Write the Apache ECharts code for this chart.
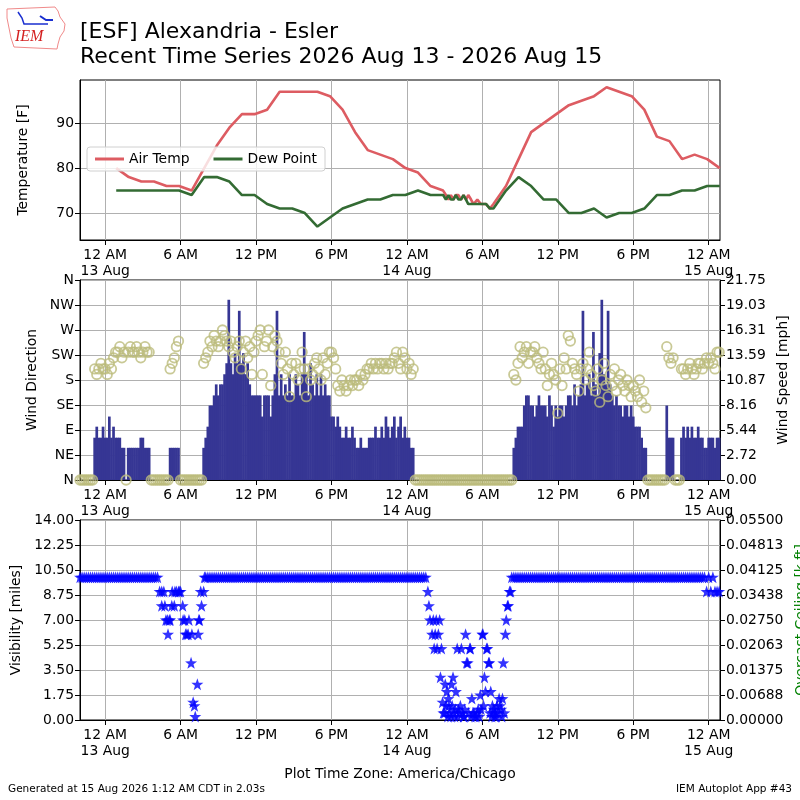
<!DOCTYPE html>
<html>
<head>
<meta charset="utf-8">
<script src="https://cdn.jsdelivr.net/npm/echarts@6/dist/echarts.min.js"></script>
<style>
  html, body { margin: 0; padding: 0; background: #fff; }
  #chart { width: 800px; height: 800px; }
</style>
</head>
<body>
<div id="chart"></div>
<script>
// x values are hours after 2026-08-13 00:00 CDT
var xTicks = [0, 6, 12, 18, 24, 30, 36, 42, 48];
var dirLabels = ['N', 'NE', 'E', 'SE', 'S', 'SW', 'W', 'NW', 'N'];
var speedLabels = ['0.00', '2.72', '5.44', '8.16', '10.87', '13.59', '16.31', '19.03', '21.75'];
var ceilLabels = ['0.00000', '0.00688', '0.01375', '0.02063', '0.02750', '0.03438', '0.04125', '0.04813', '0.05500'];

// hourly (and special) obs, temperature
var tempHours = [0.88, 1.88, 2.88, 3.88, 4.88, 5.88, 6.88, 7.88, 8.88, 9.88, 10.88, 11.88, 12.88, 13.88,
  14.88, 15.88, 16.88, 17.88, 18.88, 19.88, 20.88, 21.88, 22.88, 23.88, 24.88, 25.88, 26.88,
  27.1, 27.3, 27.5, 27.7, 27.88, 28.1, 28.3, 28.5, 28.7, 28.88, 29.1, 29.3, 29.6, 29.88, 30.3, 30.6, 30.88,
  31.88, 32.88, 33.88, 34.88, 35.88, 36.88, 37.88, 38.88, 39.88, 40.88, 41.88, 42.88, 43.88, 44.88,
  45.88, 46.88, 47.88, 48.88];
var airTemp = [80, 78, 77, 77, 76, 76, 75, 80, 85, 89, 92, 92, 93, 97,
  97, 97, 97, 96, 93, 88, 84, 83, 82, 80, 79, 76, 75,
  74, 73, 74, 73, 74, 74, 73, 74, 73, 74, 73, 72, 73, 72, 72, 71, 72,
  76, 82, 88, 90, 92, 94, 95, 96, 98, 97, 96, 93, 87, 86,
  82, 83, 82, 80];
var dewPoint = [75, 75, 75, 75, 75, 75, 74, 78, 78, 77, 74, 74, 72, 71,
  71, 70, 67, 69, 71, 72, 73, 73, 74, 74, 75, 74, 74,
  73, 74, 73, 73, 74, 73, 73, 74, 73, 72, 72, 72, 72, 72, 72, 71, 71,
  75, 78, 76, 73, 73, 70, 70, 71, 69, 70, 70, 71, 74, 74,
  75, 75, 76, 76];

// 10 minute obs starting 2026-08-12 22:00, one row per hour
var obsStart = -2, obsStep = 1 / 6;
var windMph = [
  0, 0, 0, 0, 0, 0,
  0, 4.6, 5.8, 4.6, 4.6, 5.8,
  4.6, 4.6, 6.9, 4.6, 5.8, 4.6,
  4.6, 4.6, 3.5, 3.5, 0, 3.5,
  3.5, 3.5, 3.5, 3.5, 3.5, 4.6,
  4.6, 3.5, 3.5, 3.5, 0, 0,
  0, 0, 0, 0, 0, 0,
  0, 3.5, 3.5, 3.5, 3.5, 3.5,
  0, 0, 0, 0, 0, 0,
  0, 0, 0, 0, 0, 3.5,
  4.6, 5.8, 8.1, 8.1, 9.2, 10.4,
  9.2, 10.4, 10.4, 11.5, 12.7, 19.6,
  12.7, 11.5, 13.8, 12.7, 18.4, 12.7,
  13.8, 11.5, 12.7, 10.4, 9.2, 9.2,
  9.2, 9.2, 9.2, 6.9, 9.2, 9.2,
  9.2, 6.9, 9.2, 11.5, 18.4, 9.2,
  11.5, 9.2, 10.4, 9.2, 11.5, 9.2,
  9.2, 11.5, 10.4, 9.2, 11.5, 16.1,
  11.5, 9.2, 12.7, 10.4, 9.2, 11.5,
  9.2, 11.5, 9.2, 10.4, 9.2, 9.2,
  6.9, 6.9, 5.8, 6.9, 5.8, 4.6,
  4.6, 5.8, 4.6, 4.6, 5.8, 4.6,
  3.5, 3.5, 4.6, 3.5, 3.5, 3.5,
  4.6, 4.6, 4.6, 5.8, 4.6, 4.6,
  5.8, 4.6, 6.9, 5.8, 4.6, 5.8,
  6.9, 4.6, 5.8, 6.9, 4.6, 5.8,
  4.6, 4.6, 3.5, 3.5, 0, 0,
  0, 0, 0, 0, 0, 0,
  0, 0, 0, 0, 0, 0,
  0, 0, 0, 0, 0, 0,
  0, 0, 0, 0, 0, 0,
  0, 0, 0, 0, 0, 0,
  0, 0, 0, 0, 0, 0,
  0, 0, 0, 0, 0, 0,
  0, 0, 0, 3.5, 4.6, 5.8,
  5.8, 5.8, 8.1, 9.2, 9.2, 8.1,
  8.1, 6.9, 8.1, 9.2, 8.1, 8.1,
  8.1, 6.9, 9.2, 8.1, 5.8, 8.1,
  6.9, 8.1, 8.1, 6.9, 8.1, 9.2,
  9.2, 8.1, 10.4, 8.1, 9.2, 10.4,
  18.4, 9.2, 10.4, 11.5, 9.2, 16.1,
  10.4, 9.2, 13.8, 19.6, 11.5, 10.4,
  18.4, 10.4, 9.2, 8.1, 9.2, 8.1,
  8.1, 6.9, 8.1, 8.1, 6.9, 8.1,
  6.9, 5.8, 5.8, 5.8, 4.6, 3.5,
  3.5, 0, 0, 0, 0, 0,
  0, 0, 0, 0, 8.1, 4.6,
  4.6, 4.6, 0, 0, 0, 4.6,
  5.8, 4.6, 5.8, 4.6, 5.8, 4.6,
  4.6, 5.8, 4.6, 4.6, 3.5, 3.5,
  4.6, 4.6, 4.6, 3.5, 4.6, 4.6
];
var windDir = [
  0, 0, 0, 0, 0, 0,
  0, 200, 190, 200, 210, 200,
  200, 190, 210, 200, 220, 230,
  230, 240, 220, 230, 0, 230,
  240, 230, 230, 240, 230, 220,
  230, 240, 230, 230, 0, 0,
  0, 0, 0, 0, 0, 0,
  0, 200, 210, 220, 240, 250,
  0, 0, 0, 0, 0, 0,
  0, 0, 0, 0, 0, 210,
  220, 230, 250, 240, 260, 250,
  240, 250, 270, 260, 250, 240,
  250, 230, 220, 240, 250, 200,
  230, 250, 220, 240, 190, 230,
  250, 260, 270, 190, 240, 250,
  270, 170, 240, 260, 250, 230,
  210, 190, 230, 200, 150, 210,
  190, 210, 180, 200, 230, 200,
  150, 200, 180, 190, 210, 220,
  200, 180, 220, 190, 210, 230,
  230, 220, 200, 170, 160, 180,
  170, 160, 170, 180, 170, 180,
  180, 170, 190, 180, 190, 200,
  200, 210, 200, 210, 200, 210,
  210, 200, 210, 200, 210, 210,
  220, 230, 210, 200, 230, 220,
  200, 210, 190, 200, 0, 0,
  0, 0, 0, 0, 0, 0,
  0, 0, 0, 0, 0, 0,
  0, 0, 0, 0, 0, 0,
  0, 0, 0, 0, 0, 0,
  0, 0, 0, 0, 0, 0,
  0, 0, 0, 0, 0, 0,
  0, 0, 0, 0, 0, 0,
  0, 0, 0, 190, 180, 210,
  240, 220, 230, 240, 210, 230,
  230, 240, 220, 210, 200, 230,
  200, 170, 190, 210, 190, 180,
  120, 200, 170, 220, 200, 260,
  250, 210, 200, 190, 160, 200,
  210, 180, 200, 230, 190, 170,
  160, 200, 140, 180, 210, 170,
  150, 190, 170, 200, 160, 180,
  190, 170, 160, 180, 170, 150,
  170, 160, 150, 180, 140, 160,
  130, 0, 0, 0, 0, 0,
  0, 0, 0, 0, 240, 220,
  210, 220, 0, 0, 0, 200,
  200, 190, 200, 210, 200, 190,
  200, 210, 210, 200, 210, 220,
  210, 220, 210, 200, 230, 230
];
var visMiles = [
  10, 10, 10, 10, 10, 10,
  10, 10, 10, 10, 10, 10,
  10, 10, 10, 10, 10, 10,
  10, 10, 10, 10, 10, 10,
  10, 10, 10, 10, 10, 10,
  10, 10, 10, 10, 10, 10,
  10, 10, 9, 8, 9, 7,
  6, 7, 9, 8, 9, 9,
  9, 8, 7, 6, 7, 4,
  1.25, 0.25, 2.5, 7, 8, 9,
  10, 10, 10, 10, 10, 10,
  10, 10, 10, 10, 10, 10,
  10, 10, 10, 10, 10, 10,
  10, 10, 10, 10, 10, 10,
  10, 10, 10, 10, 10, 10,
  10, 10, 10, 10, 10, 10,
  10, 10, 10, 10, 10, 10,
  10, 10, 10, 10, 10, 10,
  10, 10, 10, 10, 10, 10,
  10, 10, 10, 10, 10, 10,
  10, 10, 10, 10, 10, 10,
  10, 10, 10, 10, 10, 10,
  10, 10, 10, 10, 10, 10,
  10, 10, 10, 10, 10, 10,
  10, 10, 10, 10, 10, 10,
  10, 10, 10, 10, 10, 10,
  10, 10, 10, 10, 10, 10,
  10, 10, 10, 10, 9, 7,
  6, 5, 7, 6, 3, 1.25,
  0.5, 2, 1, 0.25, 3, 0.75,
  5, 0.5, 5, 0.25, 6, 4,
  5, 1.5, 0.5, 0.25, 0.75, 1.75,
  6, 3, 5, 4, 2, 0.5,
  0.25, 1, 1.5, 0.75, 4, 6,
  8, 9, 10, 10, 10, 10,
  10, 10, 10, 10, 10, 10,
  10, 10, 10, 10, 10, 10,
  10, 10, 10, 10, 10, 10,
  10, 10, 10, 10, 10, 10,
  10, 10, 10, 10, 10, 10,
  10, 10, 10, 10, 10, 10,
  10, 10, 10, 10, 10, 10,
  10, 10, 10, 10, 10, 10,
  10, 10, 10, 10, 10, 10,
  10, 10, 10, 10, 10, 10,
  10, 10, 10, 10, 10, 10,
  10, 10, 10, 10, 10, 10,
  10, 10, 10, 10, 10, 10,
  10, 10, 10, 10, 10, 10,
  10, 10, 10, 10, 10, 9,
  10, 9, 10, 9, 9, 9
];
// extra special visibility obs [hour, miles]
var visSpecials = [
  [4.5, 9], [4.75, 8], [4.95, 7], [5.1, 7], [5.3, 8], [5.55, 9], [5.9, 9], [6.2, 7], [6.4, 6], [6.6, 6],
  [6.9, 6], [7.1, 1], [7.4, 6], [7.45, 7], [7.6, 9], [7.9, 10],
  [25.75, 8], [26.1, 7], [26.25, 6], [26.4, 5], [26.6, 7], [26.75, 5], [26.9, 0.5],
  [27.05, 2.5], [27.1, 1], [27.25, 0.25], [27.3, 1.5], [27.4, 0.5], [27.55, 2.5], [27.6, 1], [27.7, 0.5], [27.8, 0.25], [27.9, 2],
  [28.05, 0.25], [28.1, 0.75], [28.25, 1], [28.4, 0.5], [28.55, 0.25], [28.6, 0.75], [28.75, 4], [28.9, 0.5],
  [29.05, 5], [29.1, 0.25], [29.25, 0.5], [29.4, 0.25], [29.6, 0.5], [29.75, 0.25], [29.9, 0.75],
  [30.05, 6], [30.1, 1], [30.25, 2], [30.4, 5], [30.55, 4], [30.6, 0.5], [30.75, 0.25], [30.8, 1], [30.9, 0.75],
  [31.05, 0.5], [31.1, 0.25], [31.25, 0.5], [31.4, 1], [31.55, 0.25], [31.6, 1.5], [31.75, 0.5], [31.9, 7],
  [32.05, 8], [32.25, 9]
];

var FONT = 'DejaVu Sans';
var STAR = 'path://M0,-10L2.35,-3.24L9.51,-3.09L3.8,1.24L5.88,8.09L0,4L-5.88,8.09L-3.8,1.24L-9.51,-3.09L-2.35,-3.24Z';

function obsHour(i) { return obsStart + i * obsStep; }
function pairs(xs, ys) { return ys.map(function (y, i) { return [xs[i], y]; }); }
function onGrid(ys) { return ys.map(function (y, i) { return [obsHour(i), y]; }); }

function timeLabel(v) {
  var h = Math.round(v);
  var hr = ((h % 24) + 24) % 24;
  if (hr === 0) return '12 AM\n' + (13 + Math.floor(h / 24)) + ' Aug';
  if (hr === 12) return '12 PM';
  return hr < 12 ? hr + ' AM' : (hr - 12) + ' PM';
}

var panels = [{ top: 80, height: 160 }, { top: 280, height: 200 }, { top: 520, height: 200 }];

function xAxisFor(i) {
  return {
    type: 'value', gridIndex: i, min: -2, max: 48.9,
    axisLine: { show: true, onZero: false, lineStyle: { color: '#000' } },
    axisTick: { show: true, customValues: xTicks, length: 5, lineStyle: { color: '#000' } },
    axisLabel: { customValues: xTicks, formatter: timeLabel, color: '#000', fontSize: 13.9, fontFamily: FONT, lineHeight: 16, margin: 7 },
    splitLine: { show: true, lineStyle: { color: '#b0b0b0', width: 1 } }
  };
}

function yBase(extra) {
  var o = {
    type: 'value',
    nameLocation: 'middle', nameRotate: 90,
    nameTextStyle: { color: '#000', fontSize: 13.9, fontFamily: FONT },
    axisLine: { show: true, onZero: false, lineStyle: { color: '#000' } },
    axisTick: { show: true, length: 5, lineStyle: { color: '#000' } },
    axisLabel: { color: '#000', fontSize: 13.9, fontFamily: FONT, margin: 6 },
    splitLine: { show: true, lineStyle: { color: '#b0b0b0', width: 1 } }
  };
  for (var k in extra) {
    if (typeof extra[k] === 'object' && o[k] && !Array.isArray(extra[k])) {
      for (var j in extra[k]) o[k][j] = extra[k][j];
    } else {
      o[k] = extra[k];
    }
  }
  return o;
}

var chart = echarts.init(document.getElementById('chart'), null, { renderer: 'canvas' });

var option = {
  animation: false,
  backgroundColor: '#fff',
  textStyle: { fontFamily: FONT },
  grid: panels.map(function (p) {
    return { left: 80, right: 80, top: p.top, height: p.height, outerBoundsMode: 'none', containLabel: false,
      show: true, borderColor: '#000', borderWidth: 1, backgroundColor: 'transparent' };
  }),
  legend: {
    data: ['Air Temp', 'Dew Point'],
    left: 87, top: 147,
    icon: 'rect', itemWidth: 29, itemHeight: 3, itemGap: 24,
    padding: [5, 8],
    backgroundColor: 'rgba(255,255,255,0.8)',
    borderColor: '#d0d0d0', borderWidth: 1, borderRadius: 3,
    textStyle: { color: '#000', fontSize: 13.9, fontFamily: FONT }
  },
  xAxis: [xAxisFor(0), xAxisFor(1), xAxisFor(2)],
  yAxis: [
    yBase({ gridIndex: 0, min: 64, max: 99.6, name: 'Temperature [F]', nameGap: 50,
      axisTick: { customValues: [70, 80, 90] }, axisLabel: { customValues: [70, 80, 90] } }),
    yBase({ gridIndex: 1, min: 0, max: 360, interval: 45, name: 'Wind Direction', nameGap: 38,
      axisLabel: { formatter: function (v) { return dirLabels[Math.round(v / 45)]; } } }),
    yBase({ gridIndex: 1, position: 'right', min: 0, max: 21.75, interval: 2.71875, name: 'Wind Speed [mph]', nameGap: 53,
      splitLine: { show: false },
      axisLabel: { formatter: function (v) { return speedLabels[Math.round(v / 2.71875)]; } } }),
    yBase({ gridIndex: 2, min: 0, max: 14, interval: 1.75, name: 'Visibility [miles]', nameGap: 54,
      axisLabel: { formatter: function (v) { return v.toFixed(2); } } }),
    yBase({ gridIndex: 2, position: 'right', min: 0, max: 8, interval: 1, name: 'Overcast Ceiling [k ft]', nameGap: 71,
      splitLine: { show: false },
      nameTextStyle: { color: '#008000' },
      axisLabel: { formatter: function (v) { return ceilLabels[Math.round(v)]; } } })
  ],
  series: [
    { name: 'Air Temp', type: 'line', xAxisIndex: 0, yAxisIndex: 0, data: pairs(tempHours, airTemp),
      showSymbol: false, color: '#dd5c62', lineStyle: { width: 2.6, color: '#dd5c62' }, z: 3 },
    { name: 'Dew Point', type: 'line', xAxisIndex: 0, yAxisIndex: 0, data: pairs(tempHours, dewPoint),
      showSymbol: false, color: '#336b33', lineStyle: { width: 2.6, color: '#336b33' }, z: 3 },
    { name: 'Wind Speed', type: 'bar', xAxisIndex: 1, yAxisIndex: 2, data: onGrid(windMph),
      barWidth: 2.7, itemStyle: { color: '#363694' }, z: 2 },
    { name: 'Wind Direction', type: 'scatter', xAxisIndex: 1, yAxisIndex: 1, data: onGrid(windDir),
      symbol: 'circle', symbolSize: 9.5,
      itemStyle: { color: 'rgba(0,0,0,0)', borderColor: '#bcbc7c', borderWidth: 1.8 }, z: 3 },
    { name: 'Visibility', type: 'scatter', xAxisIndex: 2, yAxisIndex: 3,
      data: onGrid(visMiles).concat(visSpecials),
      symbol: STAR, symbolSize: 12, itemStyle: { color: '#0000ff' }, z: 3 }
  ],
  graphic: [
    { type: 'polygon', shape: { points: [[7, 9], [55, 7], [58, 11], [60, 17], [65, 24], [64, 31], [60, 37], [58, 44], [57, 49], [14, 47], [11, 38], [9, 28], [7, 18]] },
      style: { fill: 'none', stroke: '#f08a8a', lineWidth: 1 } },
    { type: 'polyline', shape: { points: [[18, 12], [22, 18], [24, 24], [48, 24]] }, style: { stroke: '#1a2fd0', lineWidth: 1.5, fill: 'none' } },
    { type: 'polyline', shape: { points: [[40, 16], [46, 20], [53, 20]] }, style: { stroke: '#1a2fd0', lineWidth: 2, fill: 'none' } },
    { type: 'text', left: 15, top: 29, style: { text: 'IEM', font: 'italic 16px "Liberation Serif"', fill: '#d42020' } },
    { type: 'text', left: 80, top: 21, style: { text: '[ESF] Alexandria - Esler', font: '22px "DejaVu Sans"', fill: '#000' } },
    { type: 'text', left: 80, top: 46, style: { text: 'Recent Time Series 2026 Aug 13 - 2026 Aug 15', font: '22px "DejaVu Sans"', fill: '#000' } },
    { type: 'text', left: 'center', top: 767, style: { text: 'Plot Time Zone: America/Chicago', font: '13.9px "DejaVu Sans"', fill: '#000' } },
    { type: 'text', left: 8, top: 784, style: { text: 'Generated at 15 Aug 2026 1:12 AM CDT in 2.03s', font: '10.5px "DejaVu Sans"', fill: '#000' } },
    { type: 'text', right: 8, top: 784, style: { text: 'IEM Autoplot App #43', font: '10.5px "DejaVu Sans"', fill: '#000' } }
  ]
};

chart.setOption(option);
</script>
</body>
</html>
